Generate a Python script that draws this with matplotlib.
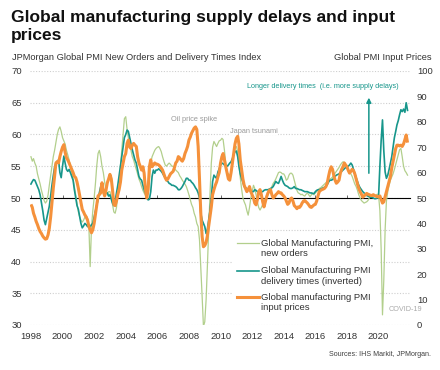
import numpy as np
import pandas as pd
import matplotlib
matplotlib.use("Agg")
import matplotlib.pyplot as plt
import matplotlib.dates as mdates
from matplotlib.ticker import NullFormatter, NullLocator
from matplotlib.lines import Line2D
from matplotlib.patches import Rectangle

plt.rcParams['font.family'] = ['Liberation Sans', 'DejaVu Sans']

# monthly, Jan 1998 .. Nov 2021
dates = pd.date_range("1998-01-01", "2021-11-01", freq="MS")

# Global Manufacturing PMI, new orders (left axis)
new_orders = [
    56.5, 55.8, 56.2, 55.5, 55.0, 53.8, 53.0, 52.2, 51.2, 50.4, 49.6, 49.2,  # 1998
    49.5, 50.5, 52.0, 53.5, 55.0, 56.5, 57.5, 58.8, 60.0, 60.8, 61.2, 60.5,  # 1999
    59.5, 59.0, 58.5, 57.5, 56.8, 56.0, 55.0, 54.0, 53.0, 51.8, 50.5, 49.2,  # 2000
    47.8, 47.0, 46.5, 46.2, 46.5, 47.0, 47.3, 46.8, 45.5, 39.2, 45.5, 48.0,  # 2001
    50.0, 52.4, 55.0, 57.0, 57.5, 56.5, 55.0, 54.0, 52.5, 51.3, 50.5, 51.0,  # 2002
    51.0, 50.2, 49.0, 47.8, 47.6, 48.5, 50.5, 52.5, 55.0, 57.5, 60.0, 62.5,  # 2003
    62.8, 60.8, 59.5, 58.5, 57.5, 56.5, 56.0, 55.2, 54.5, 53.8, 53.0, 52.5,  # 2004
    51.8, 51.2, 50.8, 50.4, 50.2, 50.8, 53.0, 55.5, 56.5, 57.0, 57.5, 57.8,  # 2005
    58.0, 58.1, 57.8, 57.3, 56.5, 55.8, 55.2, 55.0, 55.3, 55.5, 55.3, 55.0,  # 2006
    55.0, 54.6, 54.4, 54.2, 54.0, 53.5, 53.2, 52.8, 52.5, 52.2, 51.8, 51.2,  # 2007
    50.5, 49.7, 49.0, 48.5, 47.6, 47.0, 46.0, 45.5, 43.4, 39.2, 34.5, 29.8,  # 2008
    30.5, 34.0, 39.0, 45.0, 50.5, 55.5, 58.0, 58.9, 58.5, 58.1, 58.6, 59.0,  # 2009
    59.1, 59.4, 59.2, 57.5, 55.5, 54.0, 53.8, 53.6, 53.9, 55.2, 56.8, 58.0,  # 2010
    58.1, 57.3, 55.5, 53.2, 51.5, 50.0, 49.4, 48.9, 48.0, 47.3, 48.5, 50.0,  # 2011
    51.0, 52.0, 51.5, 50.5, 49.4, 48.5, 48.1, 48.5, 49.0, 49.4, 49.9, 50.2,  # 2012
    50.5, 51.0, 51.3, 51.8, 52.3, 52.6, 53.0, 53.5, 54.0, 54.1, 54.0, 53.8,  # 2013
    53.8, 53.4, 52.8, 53.0, 53.6, 53.9, 53.9, 53.6, 52.8, 52.0, 51.2, 50.8,  # 2014
    50.7, 50.5, 50.6, 50.4, 50.3, 50.6, 50.8, 50.5, 50.2, 50.5, 50.8, 50.5,  # 2015
    50.8, 51.0, 51.2, 51.5, 51.6, 51.8, 52.0, 52.2, 52.4, 52.6, 52.8, 53.0,  # 2016
    53.1, 53.3, 53.6, 53.9, 54.2, 54.5, 54.8, 55.2, 55.5, 55.7, 55.6, 55.2,  # 2017
    54.9, 54.5, 54.1, 53.8, 53.4, 52.8, 52.2, 51.8, 51.2, 50.5, 50.0, 49.6,  # 2018
    49.4, 49.2, 49.3, 49.4, 49.6, 50.0, 50.2, 50.3, 50.5, 50.3, 50.4, 50.6,  # 2019
    50.5, 48.0, 42.0, 31.6, 37.0, 45.0, 49.5, 51.0, 52.0, 52.8, 53.3, 53.8,  # 2020
    54.5, 55.3, 56.0, 56.8, 57.6, 57.8, 56.5, 55.0, 54.3, 54.0, 53.6,        # 2021
]

# Global Manufacturing PMI delivery times, inverted (left axis)
delivery_times = [
    52.2, 52.6, 52.9, 52.8, 52.3, 51.8, 51.3, 50.5, 49.2, 48.0, 46.5, 45.8,  # 1998
    46.8, 47.8, 48.7, 50.3, 52.0, 53.5, 54.8, 55.5, 55.8, 56.0, 54.0, 53.2,  # 1999
    55.0, 56.6, 55.5, 54.5, 54.2, 54.5, 54.0, 53.4, 52.8, 51.3, 50.0, 48.8,  # 2000
    48.2, 47.0, 46.0, 45.3, 45.6, 46.0, 45.8, 45.5, 45.5, 45.5, 45.8, 46.0,  # 2001
    47.0, 48.0, 48.9, 49.7, 50.8, 51.8, 51.5, 51.2, 51.0, 50.8, 50.8, 50.3,  # 2002
    50.5, 49.8, 49.2, 48.8, 49.5, 50.8, 52.0, 53.5, 55.0, 56.5, 58.0, 59.5,  # 2003
    60.0, 60.7, 60.5, 59.5, 58.6, 57.6, 56.8, 56.0, 55.5, 54.5, 53.4, 53.0,  # 2004
    52.8, 52.0, 51.3, 50.8, 50.2, 49.7, 49.8, 51.0, 53.4, 54.4, 53.9, 54.4,  # 2005
    54.4, 54.6, 54.4, 54.2, 53.9, 53.5, 53.2, 52.8, 52.6, 52.3, 52.2, 52.0,  # 2006
    52.0, 51.9, 51.8, 51.6, 51.3, 51.3, 51.5, 51.8, 52.2, 52.6, 53.1, 53.1,  # 2007
    52.8, 52.8, 52.5, 52.3, 52.0, 51.6, 51.3, 50.8, 50.0, 47.6, 46.5, 46.0,  # 2008
    45.5, 44.4, 45.0, 46.5, 48.0, 50.0, 52.6, 53.6, 53.3, 53.1, 54.1, 54.6,  # 2009
    55.2, 55.5, 55.4, 55.2, 55.0, 55.0, 55.2, 55.5, 55.7, 56.2, 56.8, 57.3,  # 2010
    57.4, 56.5, 55.0, 53.8, 53.1, 52.5, 51.8, 51.6, 51.5, 51.3, 51.2, 51.0,  # 2011
    51.0, 51.0, 51.3, 51.2, 51.0, 50.8, 50.8, 51.0, 51.0, 51.2, 51.3, 51.3,  # 2012
    51.3, 51.4, 51.5, 51.6, 51.8, 52.2, 52.6, 52.4, 52.3, 52.8, 53.4, 52.8,  # 2013
    52.3, 52.0, 51.9, 51.8, 51.6, 51.5, 51.5, 51.6, 51.8, 51.5, 51.5, 51.4,  # 2014
    51.3, 51.3, 51.2, 51.1, 51.0, 51.0, 51.0, 50.9, 50.8, 50.8, 50.7, 50.7,  # 2015
    51.0, 51.2, 51.3, 51.3, 51.4, 51.5, 51.6, 51.7, 51.8, 52.1, 52.5, 52.8,  # 2016
    52.8, 52.9, 53.1, 53.4, 53.6, 53.7, 53.8, 54.0, 54.2, 54.4, 54.6, 54.8,  # 2017
    54.8, 55.0, 55.2, 55.5, 55.2, 54.5, 53.9, 53.2, 52.6, 52.0, 51.6, 51.3,  # 2018
    51.0, 50.8, 50.5, 50.4, 50.3, 50.2, 50.1, 50.1, 50.0, 49.9, 49.9, 50.0,  # 2019
    50.2, 55.0, 59.0, 62.3, 57.5, 54.1, 53.1, 53.6, 54.5, 55.5, 56.5, 58.0,  # 2020
    59.5, 60.5, 61.5, 62.2, 63.1, 63.9, 63.6, 64.0, 63.5, 65.0, 63.8,        # 2021
]

# Global manufacturing PMI input prices (right axis, 0-100)
input_prices = [
    47.5, 46.3, 44.0, 42.5, 40.8, 39.5, 38.0, 36.8, 36.0, 35.0, 34.3, 33.8,  # 1998
    34.0, 35.5, 38.0, 42.5, 48.0, 53.8, 58.5, 63.8, 64.3, 63.8, 66.3, 68.3,  # 1999
    70.0, 71.0, 68.0, 65.8, 65.0, 63.8, 62.5, 61.3, 60.0, 58.5, 58.0, 56.3,  # 2000
    53.8, 50.8, 48.3, 45.5, 44.5, 43.3, 42.5, 41.3, 38.8, 37.5, 36.3, 37.5,  # 2001
    40.0, 43.8, 47.5, 50.8, 51.3, 52.0, 56.0, 52.5, 50.8, 53.0, 56.0, 57.5,  # 2002
    59.3, 57.5, 53.3, 47.5, 47.0, 48.8, 51.3, 53.3, 56.3, 61.0, 63.8, 66.3,  # 2003
    67.5, 71.5, 72.8, 70.0, 69.5, 70.8, 71.5, 70.8, 70.3, 66.3, 63.8, 62.5,  # 2004
    61.0, 62.3, 59.8, 53.3, 50.0, 53.3, 62.3, 65.0, 62.3, 63.0, 63.8, 63.3,  # 2005
    63.3, 63.0, 62.5, 61.8, 61.0, 59.5, 58.0, 57.0, 57.5, 58.5, 59.5, 60.0,  # 2006
    60.5, 62.0, 63.8, 64.5, 66.3, 65.8, 65.0, 64.5, 65.5, 67.5, 68.8, 70.3,  # 2007
    72.8, 74.0, 75.5, 76.5, 77.5, 78.0, 77.0, 70.3, 57.5, 44.0, 34.8, 30.8,  # 2008
    31.3, 32.5, 35.0, 38.8, 42.5, 46.5, 51.3, 53.3, 55.0, 56.3, 58.3, 60.0,  # 2009
    63.8, 66.3, 67.5, 65.0, 62.3, 59.8, 57.5, 57.0, 60.0, 63.8, 67.5, 71.3,  # 2010
    73.5, 74.3, 71.3, 65.0, 61.3, 57.5, 55.0, 53.8, 52.5, 53.3, 54.5, 52.5,  # 2011
    51.3, 50.0, 48.0, 47.3, 49.3, 52.5, 53.3, 51.3, 48.5, 46.5, 48.5, 50.5,  # 2012
    52.0, 53.0, 53.3, 51.3, 50.0, 50.5, 51.3, 51.8, 52.5, 52.0, 52.0, 51.3,  # 2013
    50.8, 50.0, 48.8, 47.5, 48.0, 49.5, 50.0, 48.8, 47.0, 46.5, 45.8, 46.5,  # 2014
    46.3, 47.0, 48.0, 48.8, 49.0, 48.5, 48.0, 47.3, 46.5, 46.3, 46.8, 47.3,  # 2015
    47.5, 48.8, 50.8, 52.5, 53.0, 53.3, 53.5, 53.8, 54.5, 55.8, 58.5, 60.8,  # 2016
    62.3, 61.3, 59.0, 57.0, 55.8, 56.3, 57.0, 59.8, 61.3, 62.3, 63.8, 63.0,  # 2017
    62.3, 60.8, 59.8, 60.5, 61.3, 60.8, 59.5, 57.5, 55.5, 53.8, 52.5, 51.5,  # 2018
    50.3, 50.8, 51.3, 51.8, 51.5, 51.3, 51.0, 51.0, 51.3, 51.0, 50.8, 50.5,  # 2019
    50.5, 50.8, 49.5, 48.0, 48.5, 50.5, 52.5, 54.5, 56.5, 58.5, 61.8, 64.3,  # 2020
    67.0, 69.5, 70.8, 70.8, 70.5, 70.8, 70.3, 71.3, 73.0, 74.8, 71.8,        # 2021
]

labels = ["Global Manufacturing PMI,\nnew orders",
          "Global Manufacturing PMI\ndelivery times (inverted)",
          "Global manufacturing PMI\ninput prices"]

c_green = "#b2cf8c"
c_teal = "#17968b"
c_orange = "#f5913b"
c_grid = "#cfcfcf"
c_axis = "#6a6a6a"
c_text = "#333333"

fig = plt.figure(figsize=(4.4, 3.7), dpi=100)
ax = fig.add_axes([30 / 440, 1 - 325 / 370, 380 / 440, 254 / 370])
ax2 = ax.twinx()

# left axis
ax.set_ylim(30, 70)
ax.set_yticks(np.arange(30, 71, 5))
ax.set_xlim(pd.Timestamp("1997-12-10"), pd.Timestamp("2021-12-28"))
ax.xaxis.set_major_locator(mdates.YearLocator(2))
ax.xaxis.set_major_formatter(mdates.DateFormatter("%Y"))
ax.grid(axis="y", color=c_grid, linestyle=(0, (1, 1.5)), linewidth=0.8)
ax.set_axisbelow(True)
ax.tick_params(axis="both", length=0, labelsize=6.8, colors=c_text)
ax.tick_params(axis="y", pad=6)
ax.tick_params(axis="x", pad=5)
for s in ax.spines.values():
    s.set_visible(False)

# the 50 line with small ticks every two years
sec = ax.secondary_xaxis(0.5)
sec.set_zorder(1)
sec.xaxis.set_major_locator(mdates.YearLocator(2))
sec.xaxis.set_minor_locator(NullLocator())
sec.xaxis.set_major_formatter(NullFormatter())
sec.tick_params(axis="x", which="major", length=2.0, width=0.7, color=c_axis)
sec.spines["bottom"].set_color(c_axis)
sec.spines["bottom"].set_linewidth(1.0)

# right axis
ax2.set_ylim(0, 100)
ax2.set_yticks(np.arange(0, 101, 10))
ax2.tick_params(axis="y", length=0, labelsize=6.8, colors=c_text, pad=5)
for s in ax2.spines.values():
    s.set_visible(False)

ax.plot(dates, new_orders, color=c_green, lw=0.9, zorder=3)
ax.plot(dates, delivery_times, color=c_teal, lw=1.2, zorder=4)
ax2.plot(dates, input_prices, color=c_orange, lw=2.2, solid_capstyle="butt")

# annotations
ax.text(pd.Timestamp("2008-04-25"), 62.4, "Oil price spike", fontsize=5.3,
        color="#9a9a9a", ha="center", va="center")
ax.text(pd.Timestamp("2012-01-30"), 60.55, "Japan tsunami", fontsize=5.3,
        color="#9a9a9a", ha="center", va="center",
        bbox=dict(facecolor="white", edgecolor="none", pad=0.3))
ax.text(pd.Timestamp("2016-06-25"), 67.5,
        "Longer delivery times  (i.e. more supply delays)", fontsize=5.2,
        color=c_teal, ha="center", va="center")
ax.annotate("", xy=(pd.Timestamp("2019-05-22"), 65.8),
            xytext=(pd.Timestamp("2019-05-22"), 53.9),
            arrowprops=dict(arrowstyle="-|>", color=c_teal, lw=1.1,
                            mutation_scale=7, shrinkA=0, shrinkB=0))
ax.text(pd.Timestamp("2020-08-28"), 32.5, "COVID-19", fontsize=5.2,
        color="#aaaaaa", ha="left", va="center", zorder=6)

# legend, handle sits on the first text line
ax.add_patch(Rectangle((0.534, 0.031), 0.387, 0.331, transform=ax.transAxes,
                       facecolor="white", edgecolor="none", zorder=1.5))
leg_y = [0.3217, 0.2138, 0.109]
for lab, yy, col, lw in zip(labels, leg_y, [c_green, c_teal, c_orange], [0.9, 1.2, 2.2]):
    ax.add_line(Line2D([0.545, 0.603], [yy, yy], transform=ax.transAxes,
                       color=col, lw=lw, zorder=5))
    ax.text(0.608, yy - 5.2 / 254, lab, transform=ax.transAxes, fontsize=6.8,
            color=c_text, ha="left", va="center", linespacing=1.2, zorder=5)

# titles
fig.text(11 / 440, 1 - 22 / 370, "Global manufacturing supply delays and input",
         fontsize=12.5, fontweight="bold", color="#111111", va="baseline")
fig.text(11 / 440, 1 - 40 / 370, "prices",
         fontsize=12.5, fontweight="bold", color="#111111", va="baseline")
fig.text(12 / 440, 1 - 60 / 370, "JPMorgan Global PMI New Orders and Delivery Times Index",
         fontsize=6.7, color=c_text, va="baseline")
fig.text(432 / 440, 1 - 60 / 370, "Global PMI Input Prices",
         fontsize=6.7, color=c_text, va="baseline", ha="right")
fig.text(431 / 440, 1 - 354 / 370, "Sources: IHS Markit, JPMorgan.",
         fontsize=5.1, color="#404040", ha="right", va="center")

fig.savefig("out.png", dpi=100)
